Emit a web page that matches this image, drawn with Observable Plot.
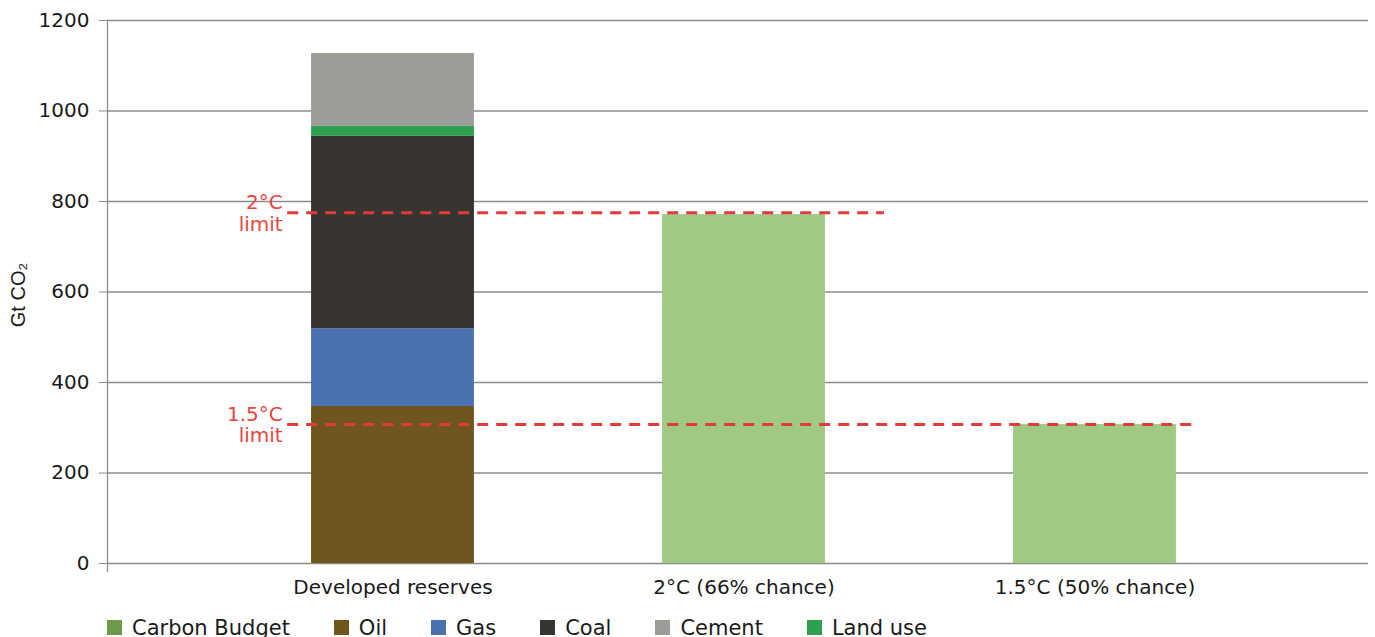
<!DOCTYPE html>
<html>
<head>
<meta charset="utf-8">
<script src="https://cdn.jsdelivr.net/npm/d3@7"></script>
<script src="https://cdn.jsdelivr.net/npm/@observablehq/plot@0.6"></script>
<style>
  html, body { margin: 0; padding: 0; background: #fff; }
  body { width: 1375px; height: 637px; overflow: hidden; position: relative; font-family: "DejaVu Sans", sans-serif; }
  #chart { position: absolute; left: 0; top: 0; }
  #legend { position: absolute; left: 107px; top: 615px; display: flex; align-items: center; font-size: 21px; color: #1a1a1a; white-space: nowrap; }
  .item { display: flex; align-items: center; margin-right: 44px; height: 25px; }
  .sw { width: 15px; height: 15px; margin-right: 10px; }
</style>
</head>
<body>
<div id="chart"></div>
<div id="legend"></div>
<script>
// ---- data ----
const categories = ["Developed reserves", "2°C (66% chance)", "1.5°C (50% chance)"];
const reserveSources = ["Oil", "Gas", "Coal", "Land use", "Cement"]; // bottom → top
const reserveValues = [347, 172, 425, 22, 161];                     // Gt CO2
const budgetCategories = ["2°C (66% chance)", "1.5°C (50% chance)"];
const budgetValues = [771, 307];                                     // Gt CO2
const yTicks = [0, 200, 400, 600, 800, 1000, 1200];
const limitLabels = ["2°C\nlimit", "1.5°C\nlimit"];
const limitValues = [775, 307];
const limitFrom = [-0.30, -0.30];   // in category units
const limitTo = [1.40, 2.29];
const legendNames = ["Carbon Budget", "Oil", "Gas", "Coal", "Cement", "Land use"];

// ---- styles ----
const barColors = {"Carbon Budget": "#9fc985", "Oil": "#6e561e", "Gas": "#4a72b0", "Coal": "#38342f", "Cement": "#9d9d98", "Land use": "#2ea04f"};
const legendColors = {"Carbon Budget": "#6c9a4a", "Oil": "#6e561e", "Gas": "#4a72b0", "Coal": "#38342f", "Cement": "#9d9d98", "Land use": "#2ea04f"};
const halfBar = 0.232;

// ---- build rows ----
const rows = [];
let acc = 0;
reserveSources.forEach((s, k) => {
  rows.push({i: categories.indexOf("Developed reserves"), source: s, y1: acc, y2: acc + reserveValues[k]});
  acc += reserveValues[k];
});
budgetCategories.forEach((c, k) => {
  rows.push({i: categories.indexOf(c), source: "Carbon Budget", y1: 0, y2: budgetValues[k]});
});
const limits = limitValues.map((v, k) => ({value: v, label: limitLabels[k], from: limitFrom[k], to: limitTo[k]}));

const xDomain = [-0.8134, 2.7792];

const plot = Plot.plot({
  width: 1375,
  height: 605,
  marginLeft: 107,
  marginRight: 7,
  marginTop: 20,
  marginBottom: 42,
  style: {fontFamily: "DejaVu Sans, sans-serif", fontSize: "20px", color: "#1a1a1a", background: "transparent"},
  x: {type: "linear", domain: xDomain},
  y: {domain: [0, 1200]},
  marks: [
    Plot.ruleY(yTicks, {stroke: "#8c8c8c", strokeWidth: 1.3}),
    Plot.rectY(rows, {x1: d => d.i - halfBar, x2: d => d.i + halfBar, y1: "y1", y2: "y2", fill: d => barColors[d.source]}),
    Plot.ruleX([xDomain[0]], {y1: -20, y2: 1200, stroke: "#8c8c8c", strokeWidth: 1.3}),
    Plot.ruleY(limits, {y: "value", x1: "from", x2: "to", stroke: "#e23a3a", strokeWidth: 3, strokeDasharray: "11,8"}),
    Plot.text(limits, {x: "from", y: "value", text: "label", textAnchor: "end", dx: -5, fill: "#e8453c", fontSize: 20, lineHeight: 1.08}),
    Plot.axisY({ticks: yTicks, tickFormat: d => String(d), tickSize: 8, tickPadding: 10, fontSize: 20, label: null, stroke: "#8c8c8c", fill: "#1a1a1a"}),
    Plot.axisX({ticks: [0, 1, 2], tickFormat: i => categories[i], tickSize: 0, tickPadding: 16, fontSize: 20, label: null, fill: "#1a1a1a"}),
    Plot.text(["Gt CO₂"], {frameAnchor: "left", textAnchor: "middle", dx: -89, dy: 3, rotate: -90, fontSize: 20, fontFamily: "Liberation Sans, Arial, sans-serif", fill: "#1a1a1a"})
  ]
});
document.getElementById("chart").appendChild(plot);

const legend = document.getElementById("legend");
legendNames.forEach(n => {
  const it = document.createElement("div");
  it.className = "item";
  const sw = document.createElement("div");
  sw.className = "sw";
  sw.style.background = legendColors[n];
  const t = document.createElement("span");
  t.textContent = n;
  it.appendChild(sw);
  it.appendChild(t);
  legend.appendChild(it);
});
</script>
</body>
</html>
